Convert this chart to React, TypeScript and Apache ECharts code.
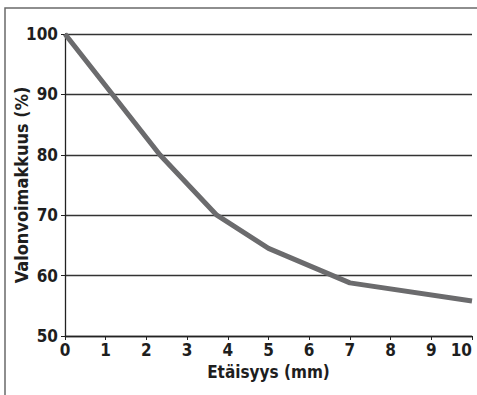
import React, { useEffect, useRef } from "react";
import * as echarts from "echarts";

const distances = [0, 2.33, 3.73, 5, 7, 10];
const intensity = [100, 80, 70, 64.5, 58.8, 55.8];
const xTicks = { min: 0, max: 10, interval: 1 };
const yTicks = { min: 50, max: 100, interval: 10 };
const xName = "Etäisyys (mm)";
const yName = "Valonvoimakkuus (%)";

const FONT = "'DejaVu Sans Condensed', 'Liberation Sans', Arial, sans-serif";
const TXT = "#1e1e1e";

export default function App() {
  const ref = useRef<HTMLDivElement>(null);
  useEffect(() => {
    const chart = echarts.init(ref.current!, null, { renderer: "svg" });
    chart.setOption({
      animation: false,
      backgroundColor: "#ffffff",
      grid: { left: 65, right: 5, top: 34, bottom: 59, outerBoundsMode: "none", containLabel: false },
      graphic: [
        {
          type: "rect",
          shape: { x: 5, y: 8, width: 520, height: 420 },
          style: { fill: "none", stroke: "#6a6a6a", lineWidth: 1.5 },
          silent: true,
        },
      ],
      xAxis: {
        type: "value",
        min: xTicks.min,
        max: xTicks.max,
        interval: xTicks.interval,
        name: xName,
        nameLocation: "middle",
        nameGap: 27,
        nameMoveOverlap: false,
        nameTextStyle: { fontFamily: FONT, fontWeight: "bold", fontSize: 17, color: TXT },
        axisLine: { show: true, lineStyle: { color: "#222", width: 1.3 } },
        axisTick: { show: true, length: 4, lineStyle: { color: "#222" } },
        axisLabel: {
          fontFamily: FONT,
          fontWeight: "bold",
          fontSize: 17,
          color: TXT,
          margin: 5,
          alignMaxLabel: "right",
        },
        splitLine: { show: false },
      },
      yAxis: {
        type: "value",
        min: yTicks.min,
        max: yTicks.max,
        interval: yTicks.interval,
        name: yName,
        nameLocation: "middle",
        nameGap: 35,
        nameMoveOverlap: false,
        nameTextStyle: { fontFamily: FONT, fontWeight: "bold", fontSize: 18, color: TXT },
        axisLine: { show: true, lineStyle: { color: "#222", width: 1.3 } },
        axisTick: { show: true, length: 4, lineStyle: { color: "#222" } },
        axisLabel: { fontFamily: FONT, fontWeight: "bold", fontSize: 17, color: TXT, margin: 7 },
        splitLine: { show: true, lineStyle: { color: "#333", width: 1.3 } },
      },
      series: [
        {
          type: "line",
          data: distances.map((d, i) => [d, intensity[i]]),
          showSymbol: false,
          symbol: "none",
          lineStyle: { color: "#6b6b6d", width: 5 },
          z: 5,
        },
      ],
    });
    return () => chart.dispose();
  }, []);
  return (
    <div
      ref={ref}
      style={{ position: "fixed", left: 0, top: 0, width: 477, height: 395 }}
    />
  );
}
